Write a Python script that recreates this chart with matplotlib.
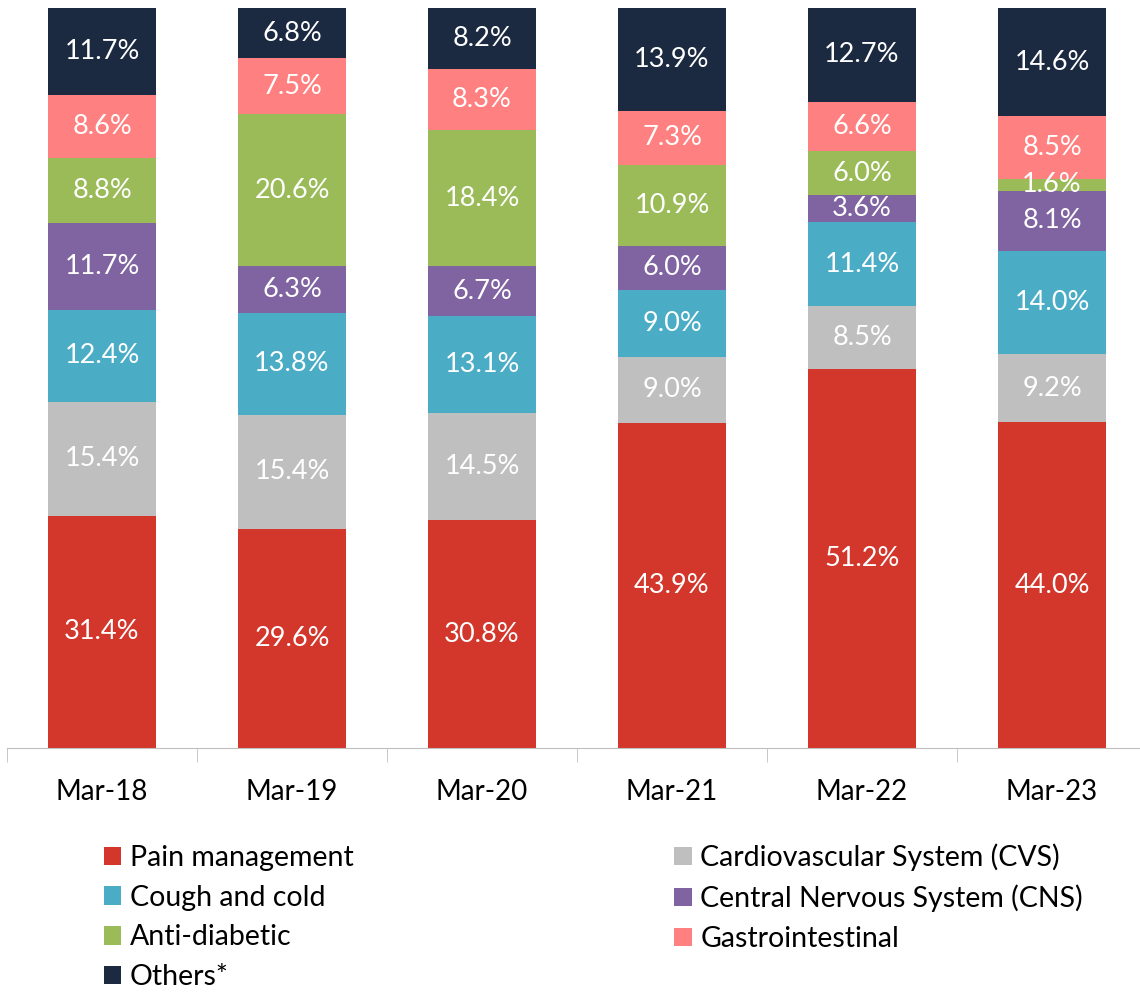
import matplotlib
matplotlib.use("Agg")
import matplotlib.pyplot as plt
import numpy as np

plt.rcParams['font.family'] = ['Lato', 'DejaVu Sans']

years = ["Mar-18", "Mar-19", "Mar-20", "Mar-21", "Mar-22", "Mar-23"]
pain = [31.4, 29.6, 30.8, 43.9, 51.2, 44.0]
cvs = [15.4, 15.4, 14.5, 9.0, 8.5, 9.2]
cough = [12.4, 13.8, 13.1, 9.0, 11.4, 14.0]
cns = [11.7, 6.3, 6.7, 6.0, 3.6, 8.1]
anti = [8.8, 20.6, 18.4, 10.9, 6.0, 1.6]
gastro = [8.6, 7.5, 8.3, 7.3, 6.6, 8.5]
others = [11.7, 6.8, 8.2, 13.9, 12.7, 14.6]

series = [
    ("Pain management", pain, "#D3362B"),
    ("Cardiovascular System (CVS)", cvs, "#BFBFBF"),
    ("Cough and cold", cough, "#4BACC6"),
    ("Central Nervous System (CNS)", cns, "#8064A2"),
    ("Anti-diabetic", anti, "#9BBB59"),
    ("Gastrointestinal", gastro, "#FF8080"),
    ("Others*", others, "#1B2A41"),
]

fig = plt.figure(figsize=(11.4, 9.94), dpi=100)
ax = fig.add_axes([7 / 1140, (994 - 748) / 994, 1.0, 740 / 994])

x = np.arange(len(years))
bottom = np.zeros(len(years))
handles = {}
for name, vals, col in series:
    vals = np.array(vals)
    b = ax.bar(x, vals, bottom=bottom, width=0.565, color=col, label=name)
    handles[name] = b
    for xi, v, bt in zip(x, vals, bottom):
        ax.text(xi, bt + v / 2, f"{v:.1f}%", ha="center", va="center",
                color="white", fontsize=19.5)
    bottom += vals

ax.set_xlim(-0.5, len(years) - 0.5)
ax.set_ylim(0, 100)
ax.set_yticks([])
for s in ["top", "right", "left"]:
    ax.spines[s].set_visible(False)
ax.spines["bottom"].set_color("#BFBFBF")
ax.set_xticks(x)
ax.set_xticklabels(years, fontsize=20)
ax.tick_params(axis="x", length=0, pad=22)
ax.set_xticks(np.arange(len(years) + 1) - 0.5, minor=True)
ax.tick_params(axis="x", which="minor", length=10, color="#BFBFBF")

# legend filled column by column, so reorder to match row layout
order = ["Pain management", "Cough and cold", "Anti-diabetic", "Others*",
         "Cardiovascular System (CVS)", "Central Nervous System (CNS)",
         "Gastrointestinal"]
fig.legend([handles[n] for n in order], order, ncol=2, frameon=False,
           loc="upper left", bbox_to_anchor=(0.081, 0.163), fontsize=20.5,
           handlelength=0.62, handleheight=0.62, handletextpad=0.3,
           labelspacing=0.48, columnspacing=11.25, borderaxespad=0)

fig.savefig("out.png", dpi=100)
